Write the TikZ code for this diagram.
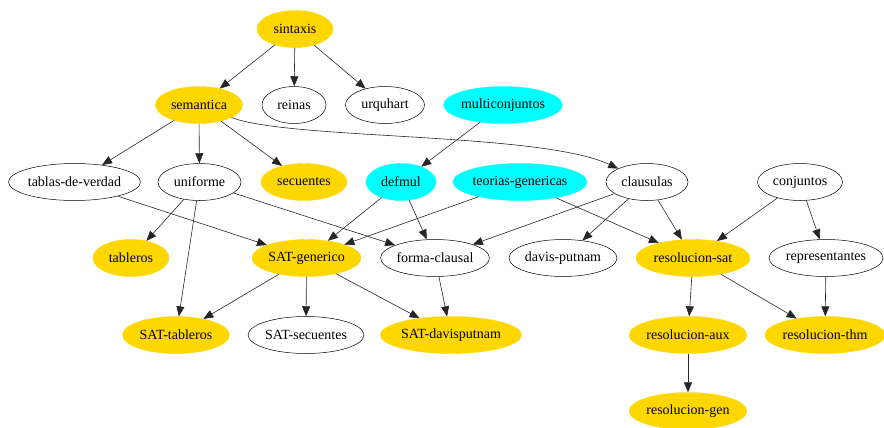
\documentclass[tikz,border=0pt]{standalone}
\usepackage{fontspec}
\setmainfont{Liberation Serif}
\usetikzlibrary{shapes.geometric,arrows.meta}
\definecolor{gvgold}{HTML}{FFD700}
\definecolor{gvcyan}{HTML}{00FFFF}
\tikzset{
  nd/.style={ellipse, inner sep=0pt, minimum height=37bp, font=\rmfamily\fontsize{14bp}{16bp}\selectfont},
  wnode/.style={nd, draw=black, line width=0.5pt, fill=white},
  gnode/.style={nd, fill=gvgold, draw=gvgold},
  cnode/.style={nd, fill=gvcyan, draw=gvcyan},
  edge/.style={draw=black!85, line width=0.6pt, -{Triangle[length=10bp,width=8bp]}}
}
\begin{document}
\begin{tikzpicture}[x=1bp,y=-1bp]
\useasboundingbox (0,0) rectangle (884,427);
% row 1
\node[gnode, minimum width=76bp] (sintaxis) at (295,29) {sintaxis};
% row 2
\node[gnode, minimum width=87bp] (semantica) at (199,105) {semantica};
\node[wnode, minimum width=64bp] (reinas) at (294,105) {reinas};
\node[wnode, minimum width=79bp] (urquhart) at (385,105) {urquhart};
\node[cnode, minimum width=118bp] (multi) at (503,105) {multiconjuntos};
% row 3
\node[wnode, minimum width=127bp] (tablas) at (74.5,182) {tablas-de-verdad};
\node[wnode, minimum width=83bp] (uniforme) at (199.5,182) {uniforme};
\node[gnode, minimum width=86bp] (secuentes) at (304,182) {secuentes};
\node[cnode, minimum width=70bp] (defmul) at (401,182) {defmul};
\node[cnode, minimum width=131bp] (teorias) at (520,182) {teorias-genericas};
\node[wnode, minimum width=82bp] (clausulas) at (647,182) {clausulas};
\node[wnode, minimum width=85bp] (conjuntos) at (800,182) {conjuntos};
% row 4
\node[gnode, minimum width=76bp] (tableros) at (131,258) {tableros};
\node[gnode, minimum width=109bp] (satgen) at (306.5,258) {SAT-generico};
\node[wnode, minimum width=108bp] (forma) at (435,258) {forma-clausal};
\node[wnode, minimum width=108bp] (davis) at (563,258) {davis-putnam};
\node[gnode, minimum width=114bp] (ressat) at (693,258) {resolucion-sat};
\node[wnode, minimum width=114bp] (repr) at (826,258) {representantes};
% row 5
\node[gnode, minimum width=107bp] (sattab) at (176,335) {SAT-tableros};
\node[wnode, minimum width=115bp] (satsec) at (306,335) {SAT-secuentes};
\node[gnode, minimum width=134bp] (satdp) at (451,335) {SAT-davisputnam};
\node[gnode, minimum width=117bp] (resaux) at (688,335) {resolucion-aux};
\node[gnode, minimum width=116bp] (resthm) at (825,335) {resolucion-thm};
% row 6
\node[gnode, minimum width=117bp] (resgen) at (688,411) {resolucion-gen};
% edges
\draw[edge] (sintaxis) -- (semantica);
\draw[edge] (sintaxis) -- (reinas);
\draw[edge] (sintaxis) -- (urquhart);
\draw[edge] (semantica) -- (tablas);
\draw[edge] (semantica) -- (uniforme);
\draw[edge] (semantica) -- (secuentes);
\draw[edge] (semantica) .. controls (290,140) and (540,132) .. (clausulas);
\draw[edge] (multi) -- (defmul);
\draw[edge] (uniforme) -- (tableros);
\draw[edge] (uniforme) -- (sattab);
\draw[edge] (uniforme) -- (forma);
\draw[edge] (tablas) -- (satgen);
\draw[edge] (defmul) -- (satgen);
\draw[edge] (defmul) -- (forma);
\draw[edge] (teorias) -- (satgen);
\draw[edge] (teorias) -- (ressat);
\draw[edge] (clausulas) -- (forma);
\draw[edge] (clausulas) -- (davis);
\draw[edge] (clausulas) -- (ressat);
\draw[edge] (conjuntos) -- (ressat);
\draw[edge] (conjuntos) -- (repr);
\draw[edge] (satgen) -- (sattab);
\draw[edge] (satgen) -- (satsec);
\draw[edge] (satgen) -- (satdp);
\draw[edge] (forma) -- (satdp);
\draw[edge] (ressat) -- (resaux);
\draw[edge] (ressat) -- (resthm);
\draw[edge] (repr) -- (resthm);
\draw[edge] (resaux) -- (resgen);
\end{tikzpicture}
\end{document}
